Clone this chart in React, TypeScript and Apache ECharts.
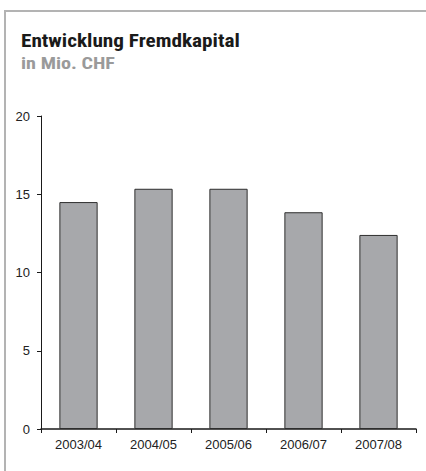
import React, { useEffect, useRef } from "react";
import * as echarts from "echarts";

const categories = ["2003/04", "2004/05", "2005/06", "2006/07", "2007/08"];
const values = [14.5, 15.35, 15.35, 13.85, 12.4];
const titleText = "Entwicklung Fremdkapital";
const subtitleText = "in Mio. CHF";

export default function App() {
  const ref = useRef<HTMLDivElement>(null);
  useEffect(() => {
    const chart = echarts.init(ref.current!, undefined, { renderer: "svg" });
    const condensed = "'Liberation Sans Narrow', 'Arial Narrow', 'Roboto Condensed', sans-serif";
    chart.setOption({
      animation: false,
      backgroundColor: "#ffffff",
      graphic: [
        { type: "line", shape: { x1: 4, y1: 11, x2: 426, y2: 11 }, style: { stroke: "#b3b3b3", lineWidth: 2 } },
        { type: "line", shape: { x1: 5, y1: 10, x2: 5, y2: 471 }, style: { stroke: "#b3b3b3", lineWidth: 2 } },
        {
          type: "text", x: 21, y: 32, scaleX: 1.18,
          style: { text: titleText, x: 0, y: 0, verticalAlign: "top", font: `bold 18px ${condensed}`, fill: "#1a1a1a" },
        },
        {
          type: "text", x: 21, y: 55.5, scaleX: 1.26,
          style: { text: subtitleText, x: 0, y: 0, verticalAlign: "top", font: `bold 16px ${condensed}`, fill: "#9a9a9a" },
        },
      ],
      grid: { left: 41, right: 10, top: 116, bottom: 42, containLabel: false },
      xAxis: {
        type: "category",
        data: categories,
        axisLine: { lineStyle: { color: "#1a1a1a", width: 1.5 } },
        axisTick: { show: true, length: 4, alignWithLabel: false, lineStyle: { color: "#1a1a1a" } },
        axisLabel: { color: "#222", fontSize: 13, fontFamily: "'Liberation Sans', Arial, sans-serif", margin: 9 },
      },
      yAxis: {
        type: "value",
        min: 0, max: 20, interval: 5,
        splitLine: { show: false },
        axisLine: { show: true, lineStyle: { color: "#1a1a1a", width: 1 } },
        axisTick: { show: true, length: 4, lineStyle: { color: "#1a1a1a" } },
        axisLabel: { color: "#222", fontSize: 13, fontFamily: "'Liberation Sans', Arial, sans-serif", margin: 11 },
      },
      series: [
        {
          type: "bar",
          data: values,
          barWidth: "51%",
          itemStyle: { color: "#a7a8ab", borderColor: "#2e2e2e", borderWidth: 1 },
        },
      ],
    });
    return () => chart.dispose();
  }, []);
  return <div ref={ref} style={{ position: "absolute", left: 0, top: 0, width: 426, height: 471 }} />;
}
